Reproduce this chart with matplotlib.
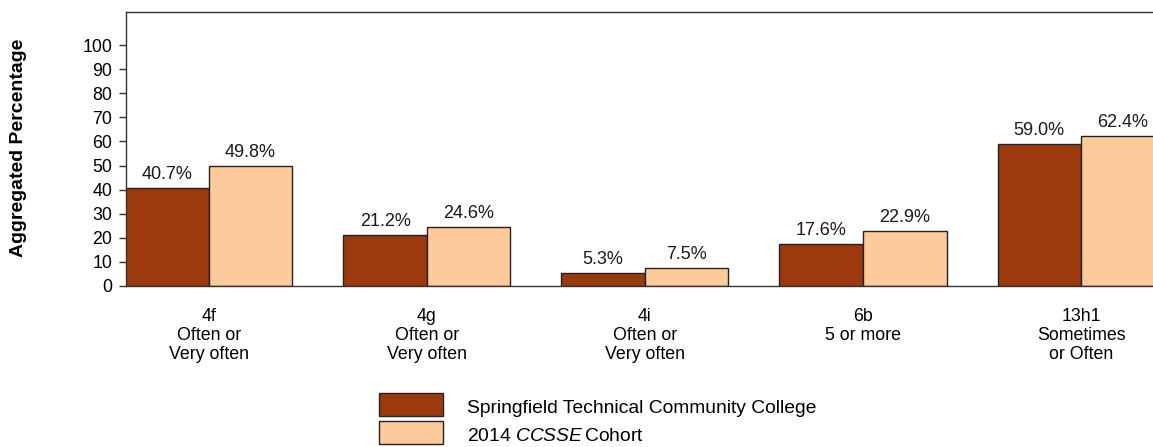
import numpy as np
import matplotlib
matplotlib.use("Agg")
import matplotlib.pyplot as plt
from matplotlib.patches import Rectangle

plt.rcParams['font.family'] = ['Liberation Sans', 'DejaVu Sans']
plt.rcParams['mathtext.fontset'] = 'custom'
plt.rcParams['mathtext.rm'] = 'Liberation Sans'
plt.rcParams['mathtext.it'] = 'Liberation Sans:italic'

# data
categories = ["4f\nOften or\nVery often", "4g\nOften or\nVery often",
              "4i\nOften or\nVery often", "6b\n5 or more",
              "13h1\nSometimes\nor Often"]
college = [40.7, 21.2, 5.3, 17.6, 59.0]
cohort = [49.8, 24.6, 7.5, 22.9, 62.4]
series_names = ["Springfield Technical Community College",
                "2014 $\\it{CCSSE}\\,$Cohort"]
yticks = list(range(0, 101, 10))

brown = '#9C3A0E'
peach = '#FDCB9B'
edge = '#222222'

fig = plt.figure(figsize=(11.53, 4.47), dpi=100)
ax = fig.add_axes([126 / 1153, 1 - 286 / 447, 1 - 126 / 1153, (286 - 12) / 447])

x = np.arange(len(categories))
w = 0.383
b1 = ax.bar(x - w / 2, college, w, color=brown, edgecolor=edge, linewidth=1)
b2 = ax.bar(x + w / 2, cohort, w, color=peach, edgecolor=edge, linewidth=1)
for bars, vals in [(b1, college), (b2, cohort)]:
    ax.bar_label(bars, labels=[f"{v:.1f}%" for v in vals], padding=3.5,
                 fontsize=13, color='#1a1a1a')

ax.set_xlim(-0.38, 4.33)
ax.set_ylim(0, 113.7)
ax.set_yticks(yticks)
ax.set_yticklabels([str(t) for t in yticks], fontsize=12.8)
ax.set_xticks(x)
ax.set_xticklabels(categories, fontsize=12.8, linespacing=1.13)
ax.tick_params(axis='x', length=0, pad=16)
ax.tick_params(axis='y', length=5, width=1, pad=5, color='#333333')
for s in ['left', 'top', 'bottom']:
    ax.spines[s].set_color('#333333')
    ax.spines[s].set_linewidth(1)
ax.spines['right'].set_visible(False)

fig.text(19 / 1153, 1 - 148 / 447, "Aggregated Percentage", rotation=90,
         ha='center', va='center', fontsize=14, fontweight='bold')

# legend drawn by hand under the axes
for i, (c, name) in enumerate(zip([brown, peach], series_names)):
    top = 392.5 + i * 28.3
    fig.patches.append(Rectangle((379 / 1153, 1 - (top + 23.5) / 447), 64 / 1153,
                                 23.5 / 447, transform=fig.transFigure,
                                 facecolor=c, edgecolor=edge, linewidth=1))
    fig.text(467 / 1153, 1 - (top + 16) / 447, name, ha='left', va='center',
             fontsize=13.9)

fig.savefig('out.png', dpi=100)
